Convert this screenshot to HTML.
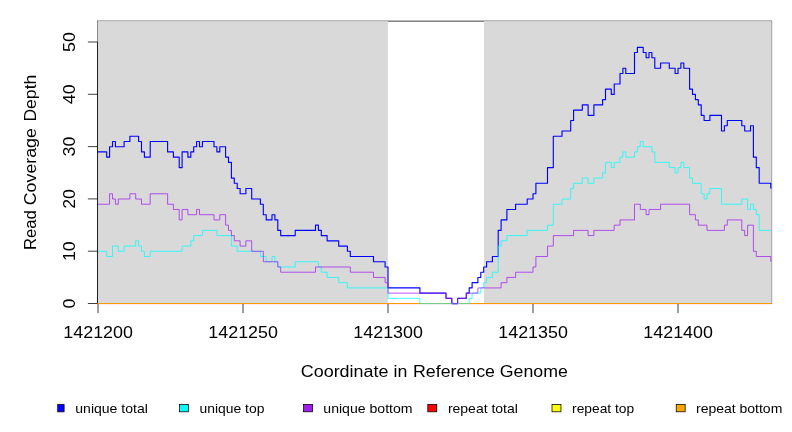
<!DOCTYPE html>
<html lang="en">
<head>
<meta charset="utf-8">
<title>Read Coverage Depth</title>
<style>
html,body{margin:0;padding:0;background:#fff;}
body{width:792px;height:432px;overflow:hidden;font-family:"Liberation Sans",sans-serif;}
svg{display:block;will-change:transform;}
text{font-family:"Liberation Sans",sans-serif;fill:#000;}
.ax{font-size:16px;}
.lab{font-size:16px;}
.lg{font-size:12.4px;}
</style>
</head>
<body>
<svg width="792" height="432" viewBox="0 0 792 432">
<rect x="0" y="0" width="792" height="432" fill="#fff"/>
<rect x="97.5" y="21.1" width="674.2" height="282.4" fill="none" stroke="#000" stroke-width="0.75"/>
<rect x="97.5" y="21.1" width="290.4" height="282.4" fill="#d9d9d9"/>
<rect x="484" y="21.1" width="287.7" height="282.4" fill="#d9d9d9"/>
<path d="M97.5 303.5V42" stroke="#000" stroke-width="0.75" fill="none"/>
<line x1="87.9" y1="303.5" x2="97.5" y2="303.5" stroke="#000" stroke-width="0.75"/>
<line x1="87.9" y1="251.2" x2="97.5" y2="251.2" stroke="#000" stroke-width="0.75"/>
<line x1="87.9" y1="198.9" x2="97.5" y2="198.9" stroke="#000" stroke-width="0.75"/>
<line x1="87.9" y1="146.6" x2="97.5" y2="146.6" stroke="#000" stroke-width="0.75"/>
<line x1="87.9" y1="94.3" x2="97.5" y2="94.3" stroke="#000" stroke-width="0.75"/>
<line x1="87.9" y1="42" x2="97.5" y2="42" stroke="#000" stroke-width="0.75"/>
<rect x="98" y="302" width="289.9" height="1" fill="#d3dae4"/>
<rect x="484" y="302" width="287.4" height="1" fill="#d3dae4"/>
<rect x="97.5" y="304" width="673.7" height="1" fill="#ffecf2"/>
<line x1="98" y1="303.5" x2="98" y2="313.1" stroke="#000" stroke-width="0.75"/>
<line x1="243" y1="303.5" x2="243" y2="313.1" stroke="#000" stroke-width="0.75"/>
<line x1="388" y1="303.5" x2="388" y2="313.1" stroke="#000" stroke-width="0.75"/>
<line x1="533" y1="303.5" x2="533" y2="313.1" stroke="#000" stroke-width="0.75"/>
<line x1="678" y1="303.5" x2="678" y2="313.1" stroke="#000" stroke-width="0.75"/>
<rect x="97.5" y="303" width="673.9" height="1" fill="#ff9900"/>
<path d="M98 151.93H106.7V157.16H109.6V146.7H112.5V141.47H115.4V146.7H124.1V141.47H129.9V136.24H138.6V141.47H141.5V151.93H144.4V157.16H150.2V141.47H167.6V151.93H173.4V157.16H179.2V167.62H182.1V151.93H187.9V157.16H190.8V151.93H193.7V146.7H196.6V141.47H199.5V146.7H202.4V141.47H214V146.7H216.9V151.93H219.8V146.7H225.6V157.16H228.5V162.39H231.4V178.08H234.3V183.31H237.2V188.54H240.1V193.77H245.9V188.54H251.7V199H260.4V204.23H263.3V214.69H266.2V219.92H272V214.69H274.9V219.92H277.8V230.38H280.7V235.61H295.2V230.38H315.5V225.15H318.4V230.38H321.3V235.61H327.1V240.84H338.7V246.07H347.4V251.3H350.3V256.53H373.5V261.76H385.1V266.99H388V287.91H419.9V293.14H446V298.37H451.8V303.6H457.6V298.37H466.3V293.14H469.2V287.91H472.1V282.68H477.9V277.45H480.8V272.22H483.7V266.99H486.6V261.76H492.4V256.53H498.2V230.38H501.1V219.92H506.9V209.46H515.6V204.23H527.2V199H533V193.77H535.9V183.31H547.5V167.62H553.3V136.24H562V131.01H570.7V120.55H573.6V110.09H582.3V104.86H588.1V115.32H593.9V104.86H602.6V99.63H605.5V89.17H611.3V94.4H614.2V83.94H620V73.48H622.9V68.25H625.8V73.48H634.5V52.56H637.4V47.33H643.2V52.56H646.1V57.79H649V52.56H651.9V57.79H654.8V68.25H660.6V63.02H669.3V68.25H675.1V73.48H678V68.25H680.9V63.02H683.8V68.25H689.6V89.17H692.5V94.4H695.4V99.63H698.3V104.86H701.2V115.32H704.1V120.55H709.9V115.32H721.5V131.01H724.4V125.78H727.3V120.55H741.8V125.78H744.7V131.01H750.5V125.78H753.4V157.16H756.3V167.62H759.2V183.31H770.8V188.54H770.8" fill="none" stroke="#0000ff" stroke-width="1.125" stroke-linejoin="round"/>
<path d="M98 251.3H106.7V256.53H112.5V246.07H118.3V251.3H124.1V246.07H135.7V240.84H138.6V246.07H141.5V251.3H144.4V256.53H150.2V251.3H182.1V246.07H190.8V240.84H193.7V235.61H202.4V230.38H216.9V235.61H231.4V246.07H237.2V251.3H260.4V256.53H266.2V261.76H272V256.53H274.9V261.76H277.8V266.99H295.2V261.76H318.4V266.99H321.3V272.22H327.1V277.45H338.7V282.68H347.4V287.91H388V298.37H419.9V303.6H469.2V298.37H472.1V293.14H480.8V287.91H483.7V282.68H486.6V277.45H492.4V272.22H498.2V246.07H501.1V240.84H506.9V235.61H527.2V230.38H547.5V225.15H553.3V204.23H562V199H570.7V188.54H573.6V183.31H582.3V178.08H588.1V183.31H593.9V178.08H602.6V172.85H605.5V162.39H611.3V167.62H614.2V162.39H620V157.16H622.9V151.93H625.8V157.16H634.5V151.93H637.4V146.7H640.3V141.47H643.2V146.7H651.9V151.93H654.8V162.39H669.3V167.62H675.1V172.85H678V167.62H680.9V162.39H683.8V167.62H689.6V178.08H692.5V183.31H701.2V193.77H704.1V199H707V193.77H709.9V188.54H721.5V204.23H741.8V199H747.6V209.46H750.5V204.23H753.4V209.46H756.3V214.69H759.2V230.38H770.8" fill="none" stroke="#00ffff" stroke-width="0.75" stroke-linejoin="round"/>
<path d="M98 204.23H109.6V193.77H112.5V199H115.4V204.23H118.3V199H129.9V193.77H135.7V199H141.5V204.23H150.2V193.77H167.6V204.23H173.4V209.46H179.2V219.92H182.1V209.46H187.9V214.69H196.6V209.46H199.5V214.69H214V219.92H219.8V214.69H225.6V225.15H228.5V230.38H231.4V235.61H234.3V240.84H240.1V246.07H245.9V240.84H251.7V251.3H263.3V261.76H277.8V266.99H280.7V272.22H315.5V266.99H350.3V272.22H373.5V277.45H385.1V282.68H388V293.14H446V298.37H451.8V303.6H457.6V298.37H466.3V293.14H477.9V287.91H501.1V282.68H506.9V277.45H515.6V272.22H533V266.99H535.9V256.53H547.5V246.07H553.3V235.61H573.6V230.38H588.1V235.61H593.9V230.38H614.2V225.15H620V219.92H634.5V204.23H640.3V209.46H646.1V214.69H649V209.46H660.6V204.23H689.6V214.69H695.4V219.92H698.3V225.15H707V230.38H724.4V225.15H727.3V219.92H741.8V230.38H744.7V235.61H747.6V225.15H753.4V251.3H756.3V256.53H770.8V261.76H770.8" fill="none" stroke="#a020f0" stroke-width="0.75" stroke-linejoin="round"/>
<rect x="419.9" y="303" width="31.4" height="1" fill="#78cc88"/>
<rect x="458.1" y="303" width="11.1" height="1" fill="#78cc88"/>
<text class="ax" transform="translate(75.4 303.5) rotate(-90)" text-anchor="middle" textLength="9.9" lengthAdjust="spacingAndGlyphs">0</text>
<text class="ax" transform="translate(75.4 251.2) rotate(-90)" text-anchor="middle" textLength="19.8" lengthAdjust="spacingAndGlyphs">10</text>
<text class="ax" transform="translate(75.4 198.9) rotate(-90)" text-anchor="middle" textLength="19.8" lengthAdjust="spacingAndGlyphs">20</text>
<text class="ax" transform="translate(75.4 146.6) rotate(-90)" text-anchor="middle" textLength="19.8" lengthAdjust="spacingAndGlyphs">30</text>
<text class="ax" transform="translate(75.4 94.3) rotate(-90)" text-anchor="middle" textLength="19.8" lengthAdjust="spacingAndGlyphs">40</text>
<text class="ax" transform="translate(75.4 42) rotate(-90)" text-anchor="middle" textLength="19.8" lengthAdjust="spacingAndGlyphs">50</text>
<text class="ax" x="98.1" y="338.2" text-anchor="middle" textLength="69.5" lengthAdjust="spacingAndGlyphs">1421200</text>
<text class="ax" x="243.1" y="338.2" text-anchor="middle" textLength="69.5" lengthAdjust="spacingAndGlyphs">1421250</text>
<text class="ax" x="388.1" y="338.2" text-anchor="middle" textLength="69.5" lengthAdjust="spacingAndGlyphs">1421300</text>
<text class="ax" x="533.1" y="338.2" text-anchor="middle" textLength="69.5" lengthAdjust="spacingAndGlyphs">1421350</text>
<text class="ax" x="678.1" y="338.2" text-anchor="middle" textLength="69.5" lengthAdjust="spacingAndGlyphs">1421400</text>
<text class="lab" x="300.8" y="376.6" textLength="87.6" lengthAdjust="spacingAndGlyphs">Coordinate</text>
<text class="lab" x="393.6" y="376.6" textLength="13.8" lengthAdjust="spacingAndGlyphs">in</text>
<text class="lab" x="413" y="376.6" textLength="82" lengthAdjust="spacingAndGlyphs">Reference</text>
<text class="lab" x="499.8" y="376.6" textLength="68" lengthAdjust="spacingAndGlyphs">Genome</text>
<text class="lab" transform="translate(35.9 250) rotate(-90)" textLength="39.7" lengthAdjust="spacingAndGlyphs">Read</text>
<text class="lab" transform="translate(35.9 205.2) rotate(-90)" textLength="77" lengthAdjust="spacingAndGlyphs">Coverage</text>
<text class="lab" transform="translate(35.9 121.6) rotate(-90)" textLength="46.9" lengthAdjust="spacingAndGlyphs">Depth</text>
<rect x="57.2" y="404.4" width="6.95" height="7.4" fill="#0000ff"/>
<path d="M57.2 404.4H64.15V411.8H57.2" fill="none" stroke="#000" stroke-width="0.75"/>
<text class="lg" x="75.3" y="412.6" textLength="72.5" lengthAdjust="spacingAndGlyphs">unique total</text>
<rect x="179.4" y="404.4" width="8.95" height="7.4" fill="#00ffff" stroke="#000" stroke-width="0.75"/>
<text class="lg" x="199.5" y="412.6" textLength="64.9" lengthAdjust="spacingAndGlyphs">unique top</text>
<rect x="303.6" y="404.4" width="8.95" height="7.4" fill="#a020f0" stroke="#000" stroke-width="0.75"/>
<text class="lg" x="323.3" y="412.6" textLength="89.3" lengthAdjust="spacingAndGlyphs">unique bottom</text>
<rect x="427.8" y="404.4" width="8.95" height="7.4" fill="#ff0000" stroke="#000" stroke-width="0.75"/>
<text class="lg" x="447.9" y="412.6" textLength="70" lengthAdjust="spacingAndGlyphs">repeat total</text>
<rect x="552" y="404.4" width="8.95" height="7.4" fill="#ffff00" stroke="#000" stroke-width="0.75"/>
<text class="lg" x="572.1" y="412.6" textLength="62.1" lengthAdjust="spacingAndGlyphs">repeat top</text>
<rect x="676.2" y="404.4" width="8.95" height="7.4" fill="#ffa500" stroke="#000" stroke-width="0.75"/>
<text class="lg" x="696" y="412.6" textLength="86.3" lengthAdjust="spacingAndGlyphs">repeat bottom</text>
</svg>
</body>
</html>
